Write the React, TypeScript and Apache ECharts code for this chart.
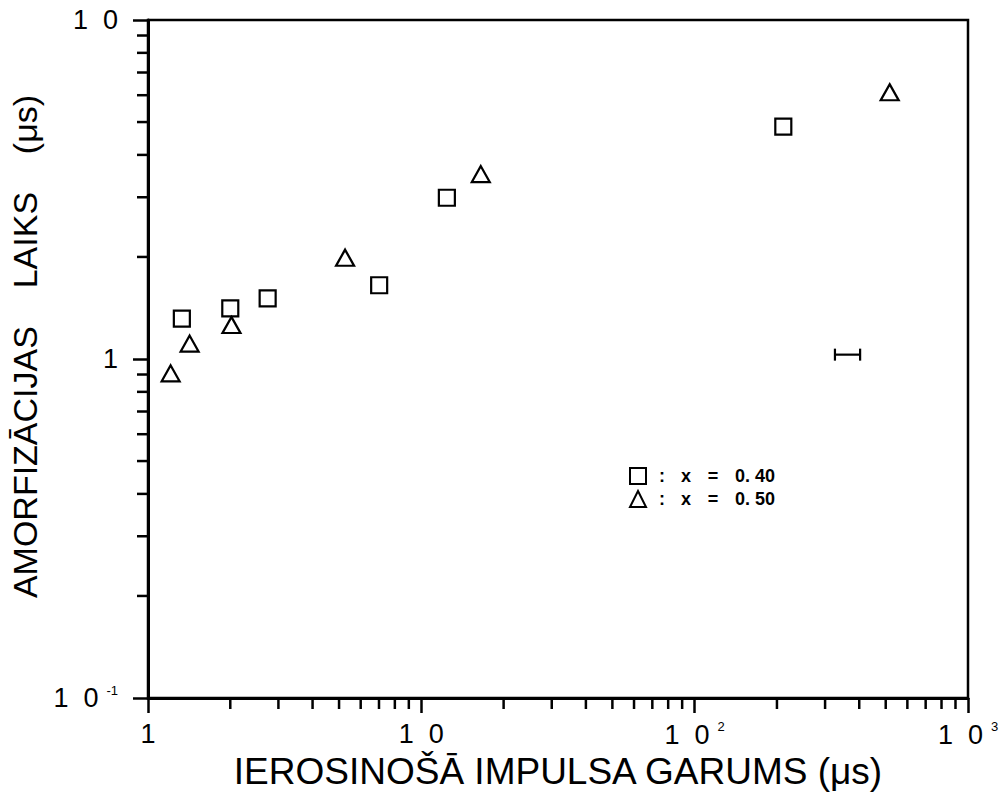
import React, { useEffect, useRef } from "react";
import * as echarts from "echarts";

// x = 0.40 (squares)
const sqX = [1.33, 2.0, 2.74, 7.01, 12.4, 211];
const sqY = [1.315, 1.41, 1.51, 1.65, 2.99, 4.85];
// x = 0.50 (triangles)
const trX = [1.21, 1.42, 2.02, 5.26, 16.5, 517];
const trY = [0.907, 1.11, 1.26, 1.99, 3.51, 6.12];
// horizontal error bar sample
const errBar = [[326, 403, 1.03]];

const xMinorTicks = [2, 3, 4, 5, 6, 7, 8, 9, 20, 30, 40, 50, 60, 70, 80, 90, 200, 300, 400, 500, 600, 700, 800, 900];
const yMinorTicks = [0.2, 0.3, 0.4, 0.5, 0.6, 0.7, 0.8, 0.9, 2, 3, 4, 5, 6, 7, 8, 9];
const xTickLabels: Record<string, string> = { "1": "1", "10": "1  0", "100": "1  0{s|2}", "1000": "1  0{s|3}" };
const yTickLabels: Record<string, string> = { "0.1": "1  0{s|-1}", "1": "1", "10": "1  0" };

const FONT = "'Liberation Sans', Arial, sans-serif";

export default function App() {
  const ref = useRef<HTMLDivElement>(null);
  useEffect(() => {
    const chart = echarts.init(ref.current!, undefined, { renderer: "svg" });
    const supRich = {
      s: { fontSize: 13, fontFamily: FONT, color: "#000", padding: [0, 0, 16, 8] },
    };
    const base = { fontSize: 18, fontWeight: "bold", fontFamily: FONT, color: "#000" };
    const legendRich = {
      a: { ...base, width: 22, align: "center" },
      b: { ...base, width: 26, align: "center" },
      c: { ...base, width: 28, align: "center" },
      d: { ...base, padding: [0, 0, 0, 8] },
    };
    chart.setOption({
      animation: false,
      backgroundColor: "#fff",
      grid: {
        left: 148, right: 38, top: 20, bottom: 101,
        show: true, borderColor: "#000", borderWidth: 2.5,
      },
      legend: {
        orient: "vertical",
        left: 629,
        top: 467,
        padding: 0,
        itemWidth: 16,
        itemHeight: 16,
        itemGap: 5,
        selectedMode: false,
        data: ["x = 0.40", "x = 0.50"],
        textStyle: { rich: legendRich, fontFamily: FONT },
        formatter: (name: string) =>
          name === "x = 0.40" ? "{a|:}{b|x}{c|=}{d|0. 40}" : "{a|:}{b|x}{c|=}{d|0. 50}",
      },
      xAxis: {
        type: "log",
        logBase: 10,
        min: 1,
        max: 1000,
        name: "IEROSINOŠĀ IMPULSA GARUMS (μs)",
        nameLocation: "middle",
        nameGap: 52,
        nameTextStyle: { fontSize: 37, fontFamily: FONT, color: "#000" },
        axisLine: { lineStyle: { color: "#000", width: 3 } },
        axisTick: { show: true, length: 15, lineStyle: { color: "#000", width: 2.5 } },
        axisLabel: {
          margin: 22,
          fontSize: 27,
          fontFamily: FONT,
          color: "#000",
          formatter: (v: number) => xTickLabels[String(Math.round(v))] ?? "",
          rich: supRich,
        },
        splitLine: { show: false },
      },
      yAxis: {
        type: "log",
        logBase: 10,
        min: 0.1,
        max: 10,
        name: "AMORFIZĀCIJAS    LAIKS    (μs)",
        nameLocation: "middle",
        nameGap: 106,
        nameRotate: 90,
        nameTextStyle: { fontSize: 34, fontFamily: FONT, color: "#000", padding: [0, 0, 0, 25] },
        axisLine: { lineStyle: { color: "#000", width: 3 } },
        axisTick: { show: true, length: 15, lineStyle: { color: "#000", width: 2.5 } },
        axisLabel: {
          margin: 30,
          fontSize: 27,
          fontFamily: FONT,
          color: "#000",
          formatter: (v: number) => {
            const key = v < 0.5 ? "0.1" : String(Math.round(v));
            return yTickLabels[key] ?? "";
          },
          rich: supRich,
        },
        splitLine: { show: false },
      },
      series: [
        {
          name: "x = 0.40",
          type: "scatter",
          symbol: "rect",
          symbolSize: 16,
          itemStyle: { color: "#fff", borderColor: "#000", borderWidth: 2.2, opacity: 1 },
          data: sqX.map((x, i) => [x, sqY[i]]),
          z: 5,
        },
        {
          name: "x = 0.50",
          type: "scatter",
          symbol: "triangle",
          symbolSize: [18, 16],
          itemStyle: { color: "#fff", borderColor: "#000", borderWidth: 2.2, opacity: 1 },
          data: trX.map((x, i) => [x, trY[i]]),
          z: 5,
        },
        {
          type: "custom",
          data: errBar,
          renderItem: (params: any, api: any) => {
            const a = api.coord([api.value(0), api.value(2)]);
            const b = api.coord([api.value(1), api.value(2)]);
            const st = { stroke: "#000", lineWidth: 2.2 };
            return {
              type: "group",
              children: [
                { type: "line", shape: { x1: a[0], y1: a[1], x2: b[0], y2: b[1] }, style: st },
                { type: "line", shape: { x1: a[0], y1: a[1] - 6, x2: a[0], y2: a[1] + 6 }, style: st },
                { type: "line", shape: { x1: b[0], y1: b[1] - 6, x2: b[0], y2: b[1] + 6 }, style: st },
              ],
            };
          },
          z: 5,
        },
        {
          type: "custom",
          data: xMinorTicks.map((v) => [v, 0.1]),
          renderItem: (params: any, api: any) => {
            const p = api.coord([api.value(0), api.value(1)]);
            return {
              type: "line",
              shape: { x1: p[0], y1: p[1], x2: p[0], y2: p[1] + 11 },
              style: { stroke: "#000", lineWidth: 2.5 },
            };
          },
          silent: true,
        },
        {
          type: "custom",
          data: yMinorTicks.map((v) => [1, v]),
          renderItem: (params: any, api: any) => {
            const p = api.coord([api.value(0), api.value(1)]);
            return {
              type: "line",
              shape: { x1: p[0], y1: p[1], x2: p[0] - 11, y2: p[1] },
              style: { stroke: "#000", lineWidth: 2.5 },
            };
          },
          silent: true,
        },
      ],
    });
    return () => chart.dispose();
  }, []);
  return (
    <div
      ref={ref}
      style={{ position: "fixed", left: 0, top: 0, width: 1006, height: 799, background: "#fff" }}
    />
  );
}
